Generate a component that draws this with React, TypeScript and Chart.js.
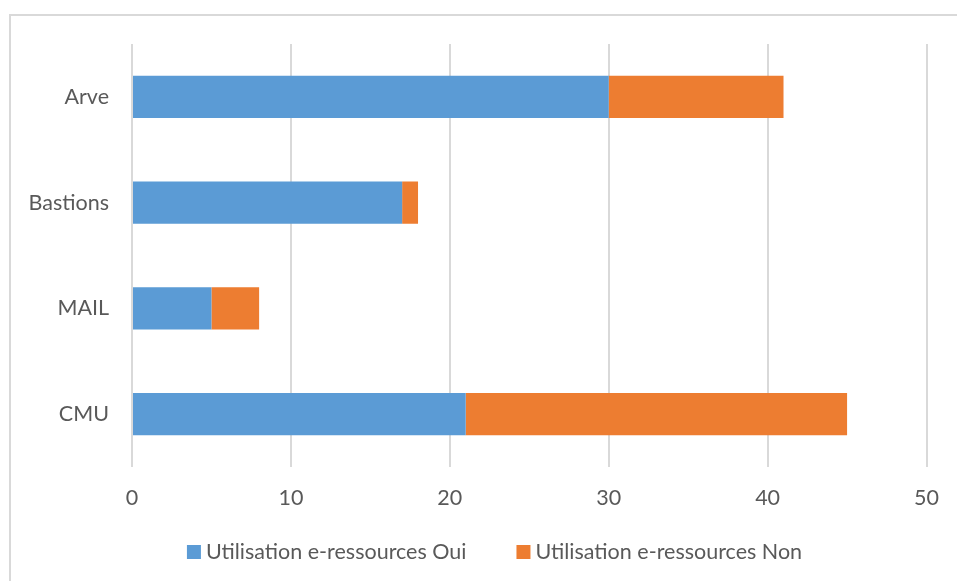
import React, { useEffect, useRef } from "react";
import { Chart, registerables } from "chart.js";

Chart.register(...registerables);

const categories = ["Arve", "Bastions", "MAIL", "CMU"];
const ouiValues = [30, 17, 5, 21];
const nonValues = [11, 1, 3, 24];
const seriesLabels = ["Utilisation e-ressources Oui", "Utilisation e-ressources Non"];
const seriesColors = ["#5B9BD5", "#ED7D31"];
const xTicks = [0, 10, 20, 30, 40, 50];

const FONT = "Lato, 'Open Sans', sans-serif";
const FS = 21.5;
const TEXT = "#595959";
const GRID = "#d9d9d9";

const frame = {
  id: "frame",
  beforeDraw(chart: any) {
    const ctx = chart.ctx;
    ctx.save();
    ctx.fillStyle = "#ffffff";
    ctx.fillRect(0, 0, chart.width, chart.height);
    ctx.strokeStyle = GRID;
    ctx.lineWidth = 2;
    ctx.beginPath();
    ctx.moveTo(10, chart.height + 2);
    ctx.lineTo(10, 15);
    ctx.lineTo(chart.width + 2, 15);
    ctx.stroke();
    ctx.restore();
  },
};

const bottomLegend = {
  id: "bottomLegend",
  afterDraw(chart: any) {
    const ctx = chart.ctx;
    ctx.save();
    ctx.font = `${FS}px ${FONT}`;
    ctx.textBaseline = "middle";
    ctx.textAlign = "left";
    const box = 14;
    const gapText = 5;
    const gapItem = 50;
    const items = chart.data.datasets.map((d: any) => ({
      text: d.label,
      color: d.backgroundColor,
      w: ctx.measureText(d.label).width,
    }));
    const total =
      items.reduce((s: number, it: any) => s + box + gapText + it.w, 0) + gapItem * (items.length - 1);
    let x = 494.5 - total / 2;
    const cy = 552;
    items.forEach((it: any) => {
      ctx.fillStyle = it.color;
      ctx.fillRect(x, cy - box / 2, box, box);
      ctx.fillStyle = TEXT;
      ctx.fillText(it.text, x + box + gapText, cy);
      x += box + gapText + it.w + gapItem;
    });
    ctx.restore();
  },
};

export default function App() {
  const ref = useRef<HTMLCanvasElement | null>(null);
  useEffect(() => {
    if (!ref.current) return;
    const chart = new Chart(ref.current, {
      type: "bar",
      data: {
        labels: categories,
        datasets: [
          {
            label: seriesLabels[0],
            data: ouiValues,
            backgroundColor: seriesColors[0],
            barPercentage: 0.8,
            categoryPercentage: 0.5,
          },
          {
            label: seriesLabels[1],
            data: nonValues,
            backgroundColor: seriesColors[1],
            barPercentage: 0.8,
            categoryPercentage: 0.5,
          },
        ],
      },
      options: {
        indexAxis: "y",
        animation: false,
        responsive: false,
        maintainAspectRatio: false,
        layout: { padding: { top: 44, right: 26, bottom: 0, left: 0 } },
        plugins: {
          tooltip: { enabled: false },
          legend: { display: false },
        },
        scales: {
          x: {
            stacked: true,
            min: 0,
            max: 50,
            afterBuildTicks: (s: any) => {
              s.ticks = xTicks.map((v) => ({ value: v }));
            },
            afterFit: (s: any) => {
              s.height = 114;
            },
            grid: { color: GRID, lineWidth: 2, drawTicks: false },
            border: { display: false },
            ticks: { color: TEXT, font: { family: FONT, size: FS }, padding: 18 },
          },
          y: {
            stacked: true,
            afterFit: (s: any) => {
              s.width = 132;
            },
            grid: { display: false, drawTicks: false },
            border: { display: false },
            ticks: { color: TEXT, font: { family: FONT, size: FS }, padding: 23 },
          },
        },
      },
      plugins: [frame, bottomLegend],
    });
    return () => chart.destroy();
  }, []);
  return (
    <div style={{ position: "fixed", left: 0, top: 0, width: 957, height: 581 }}>
      <canvas ref={ref} width={957} height={581} />
    </div>
  );
}
